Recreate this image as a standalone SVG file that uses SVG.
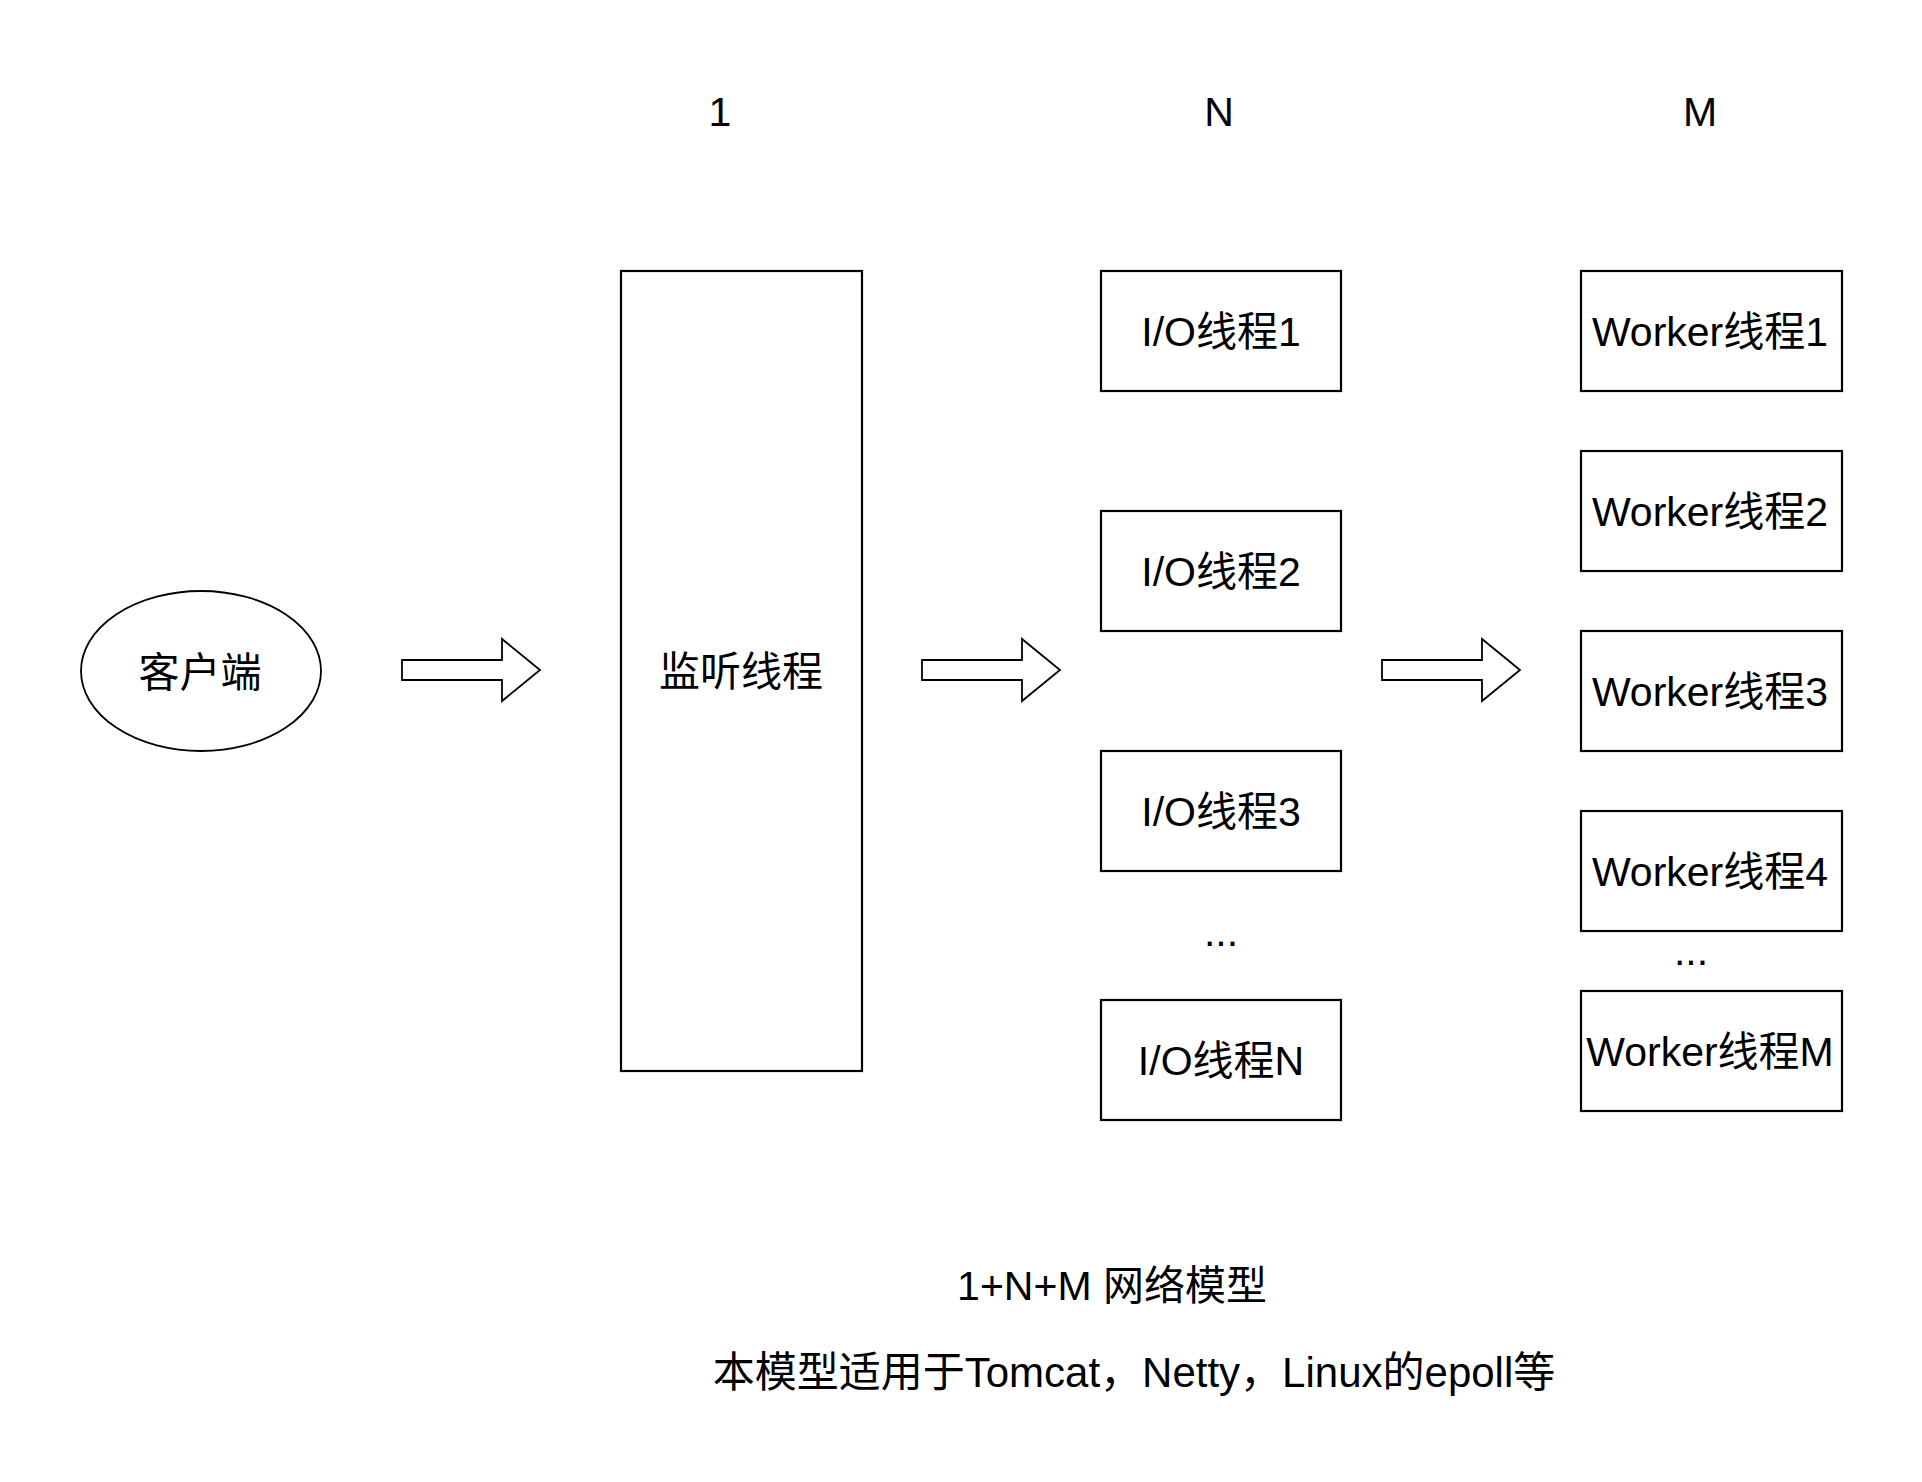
<svg xmlns="http://www.w3.org/2000/svg" width="1922" height="1482" viewBox="0 0 1922 1482">
  <style>
    text { font-family: "Liberation Sans", Arial, "Noto Sans CJK SC", sans-serif; font-size: 41px; fill: #000; text-anchor: middle; }
    .sub { font-size: 42px; }
    .box { fill: #fff; stroke: #000; stroke-width: 2.2; }
    .oval { fill: #fff; stroke: #000; stroke-width: 1.8; }
    .arrow { fill: #fff; stroke: #000; stroke-width: 1.8; stroke-linejoin: miter; }
  </style>
  <defs>
    <path id="bigArrow" d="M0,-10 H100 V-31 L138,0 L100,31 V10 H0 Z"/>
  </defs>
  <rect width="1922" height="1482" fill="#fff"/>

  <g id="labels">
    <text x="720" y="126">1</text>
    <text x="1219" y="126">N</text>
    <text x="1700" y="126">M</text>
  </g>

  <g id="client">
    <ellipse class="oval" cx="201" cy="671" rx="120" ry="80"/>
    <text x="200" y="687">客户端</text>
  </g>

  <g id="listener">
    <rect class="box" x="621" y="271" width="241" height="800"/>
    <text x="741" y="686">监听线程</text>
  </g>

  <g id="io1">
    <rect class="box" x="1101" y="271" width="240" height="120"/>
    <text x="1221" y="346">I/O线程1</text>
  </g>
  <g id="io2">
    <rect class="box" x="1101" y="511" width="240" height="120"/>
    <text x="1221" y="586">I/O线程2</text>
  </g>
  <g id="io3">
    <rect class="box" x="1101" y="751" width="240" height="120"/>
    <text x="1221" y="826">I/O线程3</text>
  </g>
  <g id="io-ellipsis">
    <text x="1221" y="946">...</text>
  </g>
  <g id="ioN">
    <rect class="box" x="1101" y="1000" width="240" height="120"/>
    <text x="1221" y="1075">I/O线程N</text>
  </g>

  <g id="worker1">
    <rect class="box" x="1581" y="271" width="261" height="120"/>
    <text x="1710" y="346">Worker线程1</text>
  </g>
  <g id="worker2">
    <rect class="box" x="1581" y="451" width="261" height="120"/>
    <text x="1710" y="526">Worker线程2</text>
  </g>
  <g id="worker3">
    <rect class="box" x="1581" y="631" width="261" height="120"/>
    <text x="1710" y="706">Worker线程3</text>
  </g>
  <g id="worker4">
    <rect class="box" x="1581" y="811" width="261" height="120"/>
    <text x="1710" y="886">Worker线程4</text>
  </g>
  <g id="worker-ellipsis">
    <text x="1691" y="965">...</text>
  </g>
  <g id="workerM">
    <rect class="box" x="1581" y="991" width="261" height="120"/>
    <text x="1710" y="1066">Worker线程M</text>
  </g>

  <g id="connectors">
    <use href="#bigArrow" class="arrow" x="402" y="670"/>
    <use href="#bigArrow" class="arrow" x="922" y="670"/>
    <use href="#bigArrow" class="arrow" x="1382" y="670"/>
  </g>

  <g id="caption">
    <text x="1112" y="1300">1+N+M 网络模型</text>
    <text class="sub" x="1134" y="1387">本模型适用于Tomcat，Netty，Linux的epoll等</text>
  </g>
</svg>
